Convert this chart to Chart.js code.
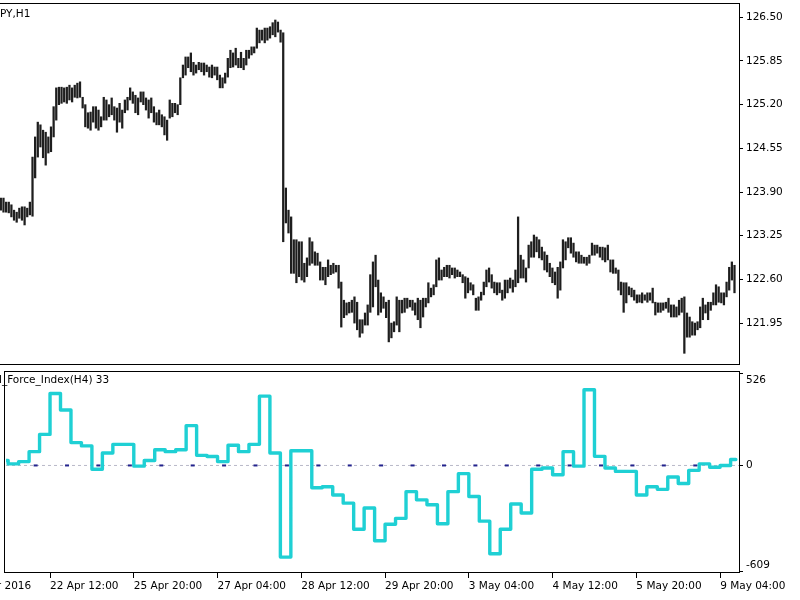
<!DOCTYPE html>
<html>
<head>
<meta charset="utf-8">
<script src="https://cdn.jsdelivr.net/npm/chart.js@4.4.0/dist/chart.umd.min.js"></script>
<style>
  html, body { margin: 0; padding: 0; background: #fff; }
  body { width: 800px; height: 600px; position: relative; overflow: hidden; font-family: 'DejaVu Sans', sans-serif; }
  canvas { position: absolute; left: 0; }
  #priceChart { top: 0; }
  #forceChart { top: 365px; }
  .pane-title { position: absolute; font-size: 10.5px; color: #000; white-space: nowrap; }
</style>
</head>
<body>
<canvas id="priceChart" width="800" height="365"></canvas>
<canvas id="forceChart" width="800" height="235"></canvas>
<div class="pane-title" style="left:0;top:7px">PY,H1</div>
<div class="pane-title" style="left:-1px;top:373px">l_Force_Index(H4) 33</div>
<script>
// ---- data ------------------------------------------------------------
// H1 bars, first visible bar index
const firstBar = 15;

const barHigh = [
    123.81, 123.81, 123.75, 123.75, 123.71, 123.63, 123.60, 123.66, 123.68, 123.68,
    123.66, 123.75, 124.42, 124.72, 124.94, 124.90, 124.82, 124.79, 124.72, 124.87,
    125.17, 125.45, 125.46, 125.46, 125.45, 125.46, 125.49, 125.45, 125.49, 125.52,
    125.54, 125.31, 125.20, 125.08, 125.09, 125.17, 125.17, 125.12, 125.02, 125.31,
    125.27, 125.20, 125.30, 125.17, 125.15, 125.22, 125.12, 125.27, 125.31, 125.45,
    125.39, 125.34, 125.30, 125.39, 125.39, 125.30, 125.27, 125.30, 125.17, 125.08,
    125.12, 125.05, 125.02, 124.97, 125.27, 125.22, 125.22, 125.20, 125.60, 125.79,
    125.91, 125.91, 125.97, 125.83, 125.79, 125.83, 125.82, 125.82, 125.79, 125.76,
    125.79, 125.76, 125.76, 125.64, 125.60, 125.67, 125.89, 126.01, 125.97, 126.04,
    125.89, 125.98, 125.89, 126.01, 126.01, 126.06, 126.06, 126.34, 126.31, 126.31,
    126.34, 126.34, 126.36, 126.42, 126.46, 126.43, 126.31, 126.27, 123.96, 123.63,
    123.53, 123.19, 123.19, 123.16, 123.16, 122.84, 122.92, 123.22, 123.16, 123.01,
    122.99, 122.86, 122.78, 122.78, 122.89, 122.81, 122.84, 122.81, 122.81, 122.56,
    122.29, 122.25, 122.26, 122.29, 122.34, 122.26, 122.00, 122.00, 122.10, 122.22,
    122.67, 122.86, 122.96, 122.59, 122.40, 122.34, 122.26, 122.29, 121.95, 121.97,
    122.34, 122.29, 122.29, 122.32, 122.32, 122.29, 122.29, 122.25, 122.32, 122.29,
    122.32, 122.32, 122.55, 122.47, 122.52, 122.89, 122.92, 122.74, 122.78, 122.81,
    122.81, 122.77, 122.77, 122.74, 122.71, 122.67, 122.64, 122.62, 122.55, 122.52,
    122.32, 122.34, 122.41, 122.56, 122.74, 122.77, 122.67, 122.56, 122.55, 122.55,
    122.44, 122.59, 122.59, 122.62, 122.59, 122.74, 123.53, 122.96, 122.89, 122.77,
    123.11, 123.16, 123.26, 123.23, 123.19, 123.08, 123.01, 122.96, 122.84, 122.77,
    122.71, 122.78, 122.86, 123.19, 123.16, 123.22, 123.22, 123.14, 123.01, 123.01,
    122.96, 122.93, 122.93, 122.96, 123.14, 123.11, 123.11, 123.08, 123.08, 123.07,
    123.11, 122.89, 122.89, 122.77, 122.74, 122.56, 122.55, 122.55, 122.49, 122.47,
    122.44, 122.37, 122.37, 122.40, 122.37, 122.40, 122.40, 122.47, 122.26, 122.25,
    122.25, 122.25, 122.26, 122.32, 122.22, 122.22, 122.19, 122.29, 122.32, 122.34,
    122.10, 122.04, 121.97, 121.95, 121.97, 122.19, 122.32, 122.22, 122.26, 122.26,
    122.40, 122.52, 122.49, 122.40, 122.40, 122.56, 122.78, 122.86, 122.81
];

const barLow = [
    123.63, 123.60, 123.60, 123.59, 123.53, 123.48, 123.45, 123.51, 123.48, 123.41,
    123.53, 123.56, 123.54, 124.11, 124.42, 124.57, 124.41, 124.30, 124.48, 124.50,
    124.72, 124.97, 125.20, 125.22, 125.24, 125.22, 125.27, 125.24, 125.31, 125.30,
    125.31, 125.15, 124.87, 124.85, 124.82, 124.94, 124.85, 124.82, 124.87, 124.97,
    124.97, 125.02, 125.05, 124.97, 124.79, 124.94, 124.85, 125.08, 125.12, 125.27,
    125.22, 125.08, 125.05, 125.24, 125.20, 125.12, 125.00, 125.08, 124.94, 124.90,
    124.90, 124.87, 124.75, 124.67, 125.00, 125.02, 125.08, 125.05, 125.20, 125.60,
    125.64, 125.75, 125.69, 125.64, 125.67, 125.72, 125.69, 125.64, 125.69, 125.61,
    125.60, 125.64, 125.57, 125.45, 125.45, 125.52, 125.61, 125.75, 125.76, 125.79,
    125.75, 125.75, 125.72, 125.79, 125.89, 125.94, 125.97, 126.04, 126.12, 126.16,
    126.12, 126.16, 126.19, 126.24, 126.21, 126.28, 126.13, 123.16, 123.44, 123.29,
    122.69, 122.69, 122.55, 122.64, 122.59, 122.56, 122.64, 122.81, 122.84, 122.81,
    122.81, 122.59, 122.59, 122.52, 122.64, 122.67, 122.69, 122.71, 122.47, 121.89,
    122.03, 122.07, 122.10, 122.11, 121.95, 121.85, 121.74, 121.80, 121.92, 121.92,
    122.11, 122.19, 122.49, 122.07, 122.11, 122.17, 122.03, 121.67, 121.73, 121.82,
    121.92, 121.82, 122.10, 122.11, 122.17, 122.19, 122.14, 122.07, 122.00, 121.88,
    122.04, 122.19, 122.25, 122.34, 122.37, 122.49, 122.59, 122.59, 122.64, 122.64,
    122.62, 122.67, 122.62, 122.64, 122.64, 122.55, 122.32, 122.40, 122.44, 122.37,
    122.14, 122.14, 122.29, 122.37, 122.49, 122.56, 122.47, 122.40, 122.37, 122.40,
    122.29, 122.32, 122.40, 122.47, 122.41, 122.49, 122.55, 122.62, 122.62, 122.56,
    122.77, 122.93, 122.93, 123.01, 122.92, 122.89, 122.74, 122.71, 122.64, 122.55,
    122.52, 122.32, 122.44, 122.77, 122.89, 123.07, 122.99, 122.93, 122.86, 122.84,
    122.84, 122.84, 122.81, 122.84, 122.96, 122.96, 122.99, 122.93, 122.89, 122.86,
    122.89, 122.71, 122.69, 122.69, 122.44, 122.37, 122.11, 122.25, 122.37, 122.34,
    122.29, 122.25, 122.26, 122.25, 122.29, 122.26, 122.29, 122.25, 122.07, 122.11,
    122.11, 122.14, 122.17, 122.11, 122.04, 122.04, 122.04, 122.07, 122.11, 121.50,
    121.74, 121.74, 121.77, 121.77, 121.85, 121.88, 122.00, 122.10, 122.00, 122.14,
    122.22, 122.22, 122.26, 122.25, 122.22, 122.34, 122.44, 122.59, 122.40
];

// Force index taken from H4: one value per 4 H1 bars, first block = 3
const forceFirstBlock = 3;
const forceValues = [
    28, 9, 22, 79, 178, 412, 318, 131, 112, -22,
    71, 121, 121, -4, 28, 90, 79, 90, 228, 58,
    51, 22, 116, 79, 121, 397, 71, -525, 84, 84,
    -128, -122, -169, -216, -365, -244, -431, -337, -303, -150,
    -197, -225, -334, -150, -47, -178, -319, -506, -365, -221,
    -272, -22, -15, -53, 79, -4, 434, 52, -15, -34,
    -34, -169, -122, -137, -66, -103, -28, 9, -10, 0,
    34
];
const forceLevels = [0];
const zeroMarkBars = [26, 38, 50, 62, 74, 86, 98, 110, 122, 134, 146, 158,
    170, 182, 194, 206, 218, 230, 242, 254, 266, 278, 290];

const timeLabels = ['21 Apr 2016', '22 Apr 12:00', '25 Apr 20:00', '27 Apr 04:00', '28 Apr 12:00',
    '29 Apr 20:00', '3 May 04:00', '4 May 12:00', '5 May 20:00', '9 May 04:00'];
const timeLabelBars = [0, 32, 64, 96, 128, 160, 192, 224, 256, 288];

const priceTicks = [121.95, 122.60, 123.25, 123.90, 124.55, 125.20, 125.85, 126.50];
const forceTicks = [526, 0, -609];

// ---- view ------------------------------------------------------------
const xMin = 14.68, xMax = 294.71;
const priceMin = 121.326, priceMax = 126.713;
const forceMin = -616, forceMax = 541;

Chart.defaults.font.family = "'DejaVu Sans', sans-serif";
Chart.defaults.font.size = 10.5;
Chart.defaults.color = '#000';

const paneFrame = {
    id: 'paneFrame',
    afterDraw(chart) {
        const { ctx, chartArea: a } = chart;
        ctx.save();
        ctx.strokeStyle = '#000';
        ctx.lineWidth = 1;
        ctx.strokeRect(a.left - 1.5, a.top + 0.5, a.right - a.left + 2, a.bottom - a.top - 1);
        ctx.restore();
    },
};

const fixAxis = (w, h) => scale => {
    if (w !== null) scale.width = w;
    if (h !== null) scale.height = h;
    scale.paddingLeft = 0;
    scale.paddingRight = 0;
    scale.paddingTop = 0;
    scale.paddingBottom = 0;
};

const tickGrid = len => ({
    display: true,
    drawOnChartArea: false,
    drawTicks: true,
    tickLength: len,
    tickColor: '#000',
    color: '#000',
});

const priceBars = barHigh.map((h, n) => ({ x: firstBar + n, y: [barLow[n], h] }));

new Chart(document.getElementById('priceChart'), {
    type: 'bar',
    data: {
        datasets: [{
            data: priceBars,
            backgroundColor: '#1e1e1e',
            borderWidth: 0,
            barThickness: 1.6,
        }],
    },
    options: {
        responsive: false,
        animation: false,
        events: [],
        layout: { padding: { top: 3, left: 0, right: 0, bottom: 0 } },
        plugins: { legend: { display: false }, tooltip: { enabled: false } },
        scales: {
            x: {
                type: 'linear',
                min: xMin,
                max: xMax,
                offset: false,
                display: false,
            },
            y: {
                position: 'right',
                min: priceMin,
                max: priceMax,
                afterBuildTicks: s => { s.ticks = priceTicks.map(v => ({ value: v })); },
                afterFit: fixAxis(61, null),
                grid: tickGrid(4),
                border: { display: false },
                ticks: {
                    padding: 3,
                    callback: v => v.toFixed(2),
                },
            },
        },
    },
    plugins: [paneFrame],
});

const forceLine = forceValues.map((v, n) => ({ x: 4 * (forceFirstBlock + n) + 1.5, y: v }));

new Chart(document.getElementById('forceChart'), {
    type: 'line',
    data: {
        datasets: [
            {
                data: forceLine,
                borderColor: '#1fd0d4',
                borderWidth: 3.4,
                stepped: 'middle',
                pointRadius: 0,
                borderJoinStyle: 'round',
                borderCapStyle: 'round',
                order: 0,
            },
            {
                data: zeroMarkBars.map(b => ({ x: b, y: forceLevels[0] })),
                showLine: false,
                pointStyle: 'line',
                pointRadius: 2,
                borderColor: '#22228c',
                borderWidth: 2,
                order: 1,
            },
            {
                data: [{ x: xMin, y: forceLevels[0] }, { x: xMax, y: forceLevels[0] }],
                borderColor: '#b8b8c8',
                borderWidth: 1,
                borderDash: [3, 3],
                pointRadius: 0,
                order: 2,
            },
        ],
    },
    options: {
        responsive: false,
        animation: false,
        events: [],
        layout: { padding: { top: 2, left: 0, right: 0, bottom: 0 } },
        plugins: { legend: { display: false }, tooltip: { enabled: false } },
        scales: {
            x: {
                type: 'linear',
                min: xMin,
                max: xMax,
                offset: false,
                afterBuildTicks: s => { s.ticks = timeLabelBars.map(b => ({ value: b - 0.5 })); },
                afterFit: fixAxis(null, 27),
                grid: tickGrid(5),
                border: { display: false },
                ticks: {
                    align: 'start',
                    autoSkip: false,
                    maxRotation: 0,
                    padding: 2,
                    callback: (v, i) => timeLabels[i],
                },
            },
            y: {
                position: 'right',
                min: forceMin,
                max: forceMax,
                afterBuildTicks: s => { s.ticks = forceTicks.map(v => ({ value: v })); },
                afterFit: fixAxis(61, null),
                grid: tickGrid(4),
                border: { display: false },
                ticks: {
                    padding: 3,
                    // max label sits under its tick, min label above it
                    callback: v => {
                        if (v === Math.max(...forceTicks)) return ['', String(v)];
                        if (v === Math.min(...forceTicks)) return [String(v), ''];
                        return String(v);
                    },
                },
            },
        },
    },
    plugins: [paneFrame],
});
</script>
</body>
</html>
